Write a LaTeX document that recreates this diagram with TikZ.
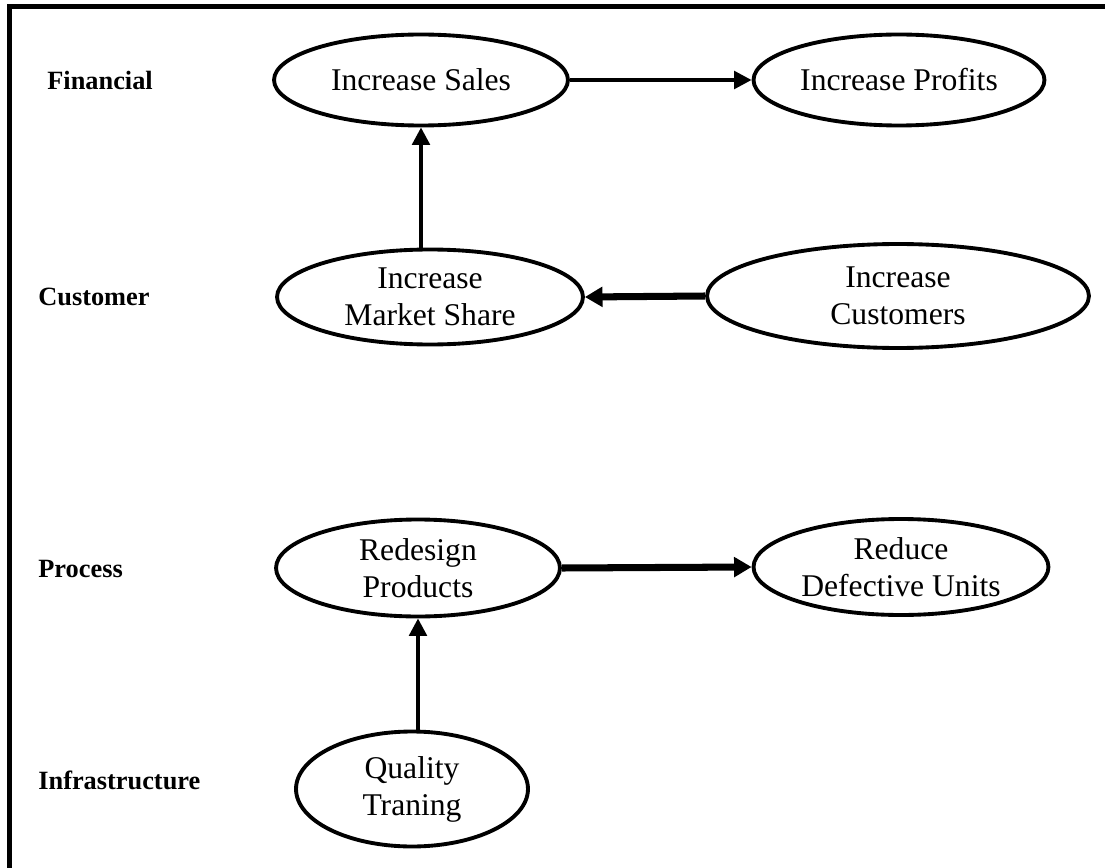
\documentclass[tikz,border=0pt]{standalone}
\usepackage{fontspec}
\setmainfont{Liberation Serif}
\usepackage{tikz}
\usetikzlibrary{shapes.geometric, arrows.meta}
\tikzstyle{goal} = [ellipse, 
draw=black, 
line width=2.2pt,
inner sep=0pt,
align=center, 
font=\fontsize{18}{21}\selectfont]
\tikzstyle{level} = [anchor=west, 
inner sep=0pt,
font=\fontsize{15}{18}\selectfont\bfseries]
\tikzstyle{arrow} = [line width=2.2pt,-{Triangle[length=10pt,width=10pt]}]
\tikzstyle{thickarrow} = [line width=4pt,-{Triangle[length=10pt,width=11pt]}]

\begin{document}
\begin{tikzpicture}[x=0.02cm, y=-0.02cm]
\useasboundingbox (0,0) rectangle (1105,868);
\draw [line width=2.4pt] (9.5,868) -- (9.5,6.5) -- (1105,6.5);

\node (fin) [level] at (47,80) {Financial};
\node (cust) [level] at (38,297) {Customer};
\node (proc) [level] at (38,569) {Process};
\node (infra) [level] at (38,780) {Infrastructure};

\node (sales) [goal, minimum width=5.88cm, minimum height=1.82cm] at (421,80) {Increase Sales};
\node (profits) [goal, minimum width=5.82cm, minimum height=1.82cm] at (899,80) {Increase Profits};
\node (share) [goal, minimum width=6.12cm, minimum height=1.9cm] at (430,297) {Increase\\Market Share};
\node (customers) [goal, minimum width=7.64cm, minimum height=2.08cm] at (898,296) {Increase\\Customers};
\node (redesign) [goal, minimum width=5.68cm, minimum height=1.94cm] at (418,568) {Redesign\\Products};
\node (defective) [goal, minimum width=5.9cm, minimum height=1.92cm] at (901,567) {Reduce\\Defective Units};
\node (training) [goal, minimum width=4.64cm, minimum height=2.3cm] at (412,789) {Quality\\Traning};

\draw [arrow] (sales) -- (profits);
\draw [arrow] (share.north -| sales.south) -- (sales.south);
\draw [thickarrow] (customers.west) -- (share.east);
\draw [thickarrow] (redesign.east) -- (defective.west);
\draw [arrow] (training.north -| redesign.south) -- (redesign.south);

\end{tikzpicture}
\end{document}
